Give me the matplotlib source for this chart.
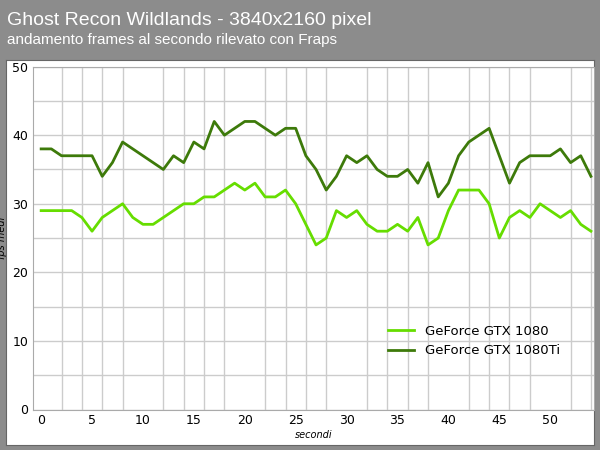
import matplotlib.pyplot as plt
import numpy as np

seconds = np.arange(55)
gtx1080 = [29, 29, 29, 29, 28, 26, 28, 29, 30, 28, 27, 27, 28, 29, 30, 30, 31, 31, 32, 33,
           32, 33, 31, 31, 32, 30, 27, 24, 25, 29, 28, 29, 27, 26, 26, 27, 26, 28, 24, 25,
           29, 32, 32, 32, 30, 25, 28, 29, 28, 30, 29, 28, 29, 27, 26]
gtx1080ti = [38, 38, 37, 37, 37, 37, 34, 36, 39, 38, 37, 36, 35, 37, 36, 39, 38, 42, 40, 41,
             42, 42, 41, 40, 41, 41, 37, 35, 32, 34, 37, 36, 37, 35, 34, 34, 35, 33, 36, 31,
             33, 37, 39, 40, 41, 37, 33, 36, 37, 37, 37, 38, 36, 37, 34]

fig = plt.figure(figsize=(6, 4.5), dpi=100, facecolor='#8c8c8c')
fig.text(0.012, 0.955, 'Ghost Recon Wildlands - 3840x2160 pixel', color='white',
         fontsize=14, fontfamily='Liberation Sans', va='center')
fig.text(0.012, 0.912, 'andamento frames al secondo rilevato con Fraps', color='white',
         fontsize=11, fontfamily='Liberation Sans', va='center')

# pannello bianco
panel = fig.add_axes([0.01, 0.012, 0.98, 0.855])
panel.set_facecolor('white')
panel.set_xticks([]); panel.set_yticks([])
for s in panel.spines.values():
    s.set_color('#666666')

ax = fig.add_axes([0.055, 0.09, 0.935, 0.762])
ax.plot(seconds, gtx1080, color='#66dd00', lw=2, label='GeForce GTX 1080')
ax.plot(seconds, gtx1080ti, color='#3d7a0a', lw=2, label='GeForce GTX 1080Ti')
ax.set_xlim(-0.8, 54.3)
ax.set_ylim(0, 50)
ax.set_xticks(range(0, 55, 5))
ax.set_xticks(range(0, 55, 2), minor=True)
ax.set_yticks(range(0, 51, 10))
ax.set_yticks(range(0, 51, 5), minor=True)
ax.grid(False, axis='x', which='major')
ax.grid(True, axis='x', which='minor', color='#cccccc', lw=1)
ax.grid(True, axis='y', which='both', color='#cccccc', lw=1)
ax.set_axisbelow(True)
ax.tick_params(which='both', length=0, labelsize=9)
ax.set_xlabel('secondi', fontsize=7, style='italic', labelpad=2)
ax.set_ylabel('fps medi', fontsize=7, style='italic', labelpad=4)
for s in ax.spines.values():
    s.set_color('#aaaaaa')
ax.legend(loc='center right', bbox_to_anchor=(0.96, 0.2), frameon=False, fontsize=9.5)

fig.savefig('out.png', dpi=100, facecolor=fig.get_facecolor())
